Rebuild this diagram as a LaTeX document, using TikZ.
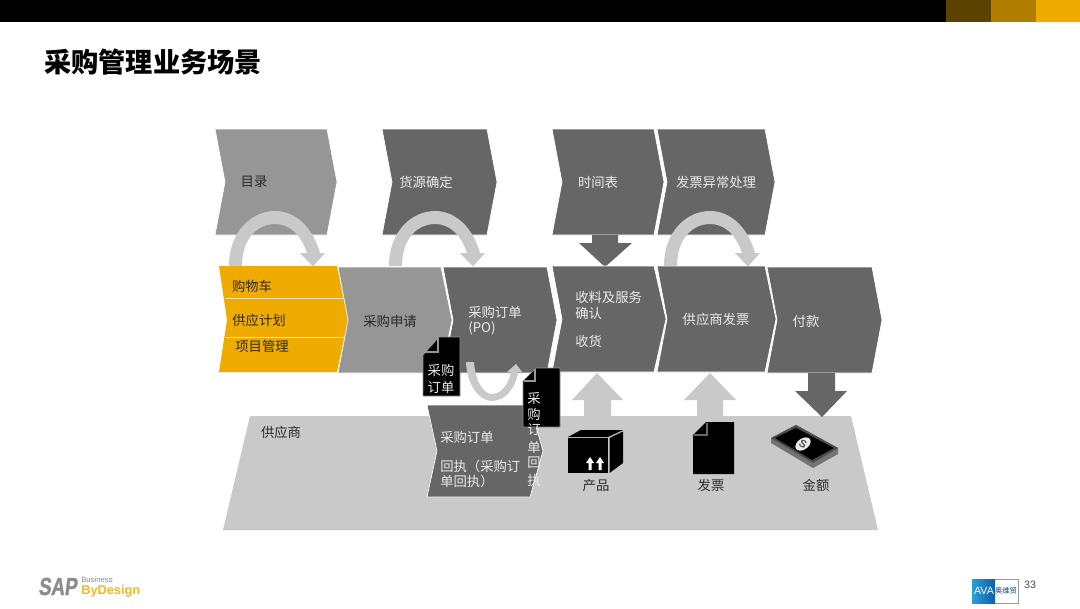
\documentclass[tikz,border=0pt]{standalone}
\usepackage{fontspec}
\setmainfont{Noto Sans CJK SC}
\newfontfamily\latinsans{Liberation Sans}
\newfontfamily\sapfont{Liberation Sans}[UprightFont=* Bold,FakeBold=1.2,FakeSlant=0.12,FakeStretch=0.76]
\definecolor{darkg}{HTML}{666666}
\definecolor{midg}{HTML}{969696}
\definecolor{lightg}{HTML}{C9C9C9}
\definecolor{sapgold}{HTML}{F0AB00}
\definecolor{goldmid}{HTML}{B07D00}
\definecolor{golddark}{HTML}{5C4200}
\definecolor{textg}{HTML}{2A2A2A}
\definecolor{avaL}{HTML}{2A9FD6}
\definecolor{avaR}{HTML}{0F5FA8}
\tikzset{
  lbl/.style={font=\fontsize{10}{12}\selectfont,text=textg,inner sep=0pt,align=left},
  lblw/.style={lbl,text=white!92!black},
  rowedge/.style={draw=white,line width=0.5pt},
  bandfill/.style={fill=lightg},
}
% name, xleft, xright, xtip, ytop, ybottom, ymid, xnotch, colour
\newcommand{\chev}[9]{\path[fill=#9,rowedge] (#2,#5) -- (#3,#5) -- (#4,#7) -- (#3,#6) -- (#2,#6) -- (#8,#7) -- cycle;
  \coordinate (#1) at (#8,#7);}
% curved arrow: x offset
\newcommand{\overarc}[1]{\begin{scope}[shift={(#1,0)}]
  \fill[bandfill] (229,266) .. controls (229,231) and (252,211) .. (275,211)
     .. controls (296,211) and (313,228) .. (320,253) -- (325,253) -- (313,266.5) -- (300,253) -- (307,253)
     .. controls (301,235) and (290,224) .. (275,224)
     .. controls (258,224) and (242,238) .. (242,266) -- cycle;
  \end{scope}}
\begin{document}
\begin{tikzpicture}[x=0.75pt,y=-0.75pt]
\useasboundingbox (0,0) rectangle (1080,608);
\fill[white] (0,0) rectangle (1080,608);
% header bar
\fill[black] (0,0) rectangle (946,22);
\fill[golddark] (946,0) rectangle (991,22);
\fill[goldmid] (991,0) rectangle (1036,22);
\fill[sapgold] (1036,0) rectangle (1080,22);
\node[anchor=west,inner sep=0pt,font=\fontsize{20.4}{24}\selectfont\bfseries] (title) at (44,62) {采购管理业务场景};
% supplier band
\fill[lightg] (250,416) -- (851,416) -- (878,530) -- (223,530) -- cycle;
% top chevrons
\chev{c1}{215}{327}{337}{129}{235}{182}{225}{midg}
\chev{c2}{382}{487}{497}{129}{235}{182}{392}{darkg}
\chev{c3}{552}{654}{664}{129}{235}{182}{562}{darkg}
\chev{c4}{657}{765}{775}{129}{235}{182}{667}{darkg}
% down arrow from schedule
\fill[darkg] (592,235) -- (618,235) -- (618,243) -- (632,243) -- (605,267) -- (579,243) -- (592,243) -- cycle;
% process row
\path[fill=sapgold] (219,266) -- (337,266) -- (348,320) -- (337,372) -- (219,372) -- (227,320) -- cycle;
\draw[white!70!sapgold,line width=0.4pt] (225,298) -- (343,298) (226,337) -- (345,337);
\chev{r2}{338}{441}{452}{267}{373}{320}{348}{midg}
\chev{r3}{443}{547}{557}{267}{373}{320}{453}{darkg}
\chev{r4}{552}{654}{666}{266}{372}{319}{562}{darkg}
\chev{r5}{657}{765}{776}{266}{372}{319}{667}{darkg}
\chev{r6}{767}{872}{882}{267}{373}{320}{777}{darkg}
% curved arrows
\overarc{0}
\overarc{160}
\overarc{435}
% order confirmation chevron
\chev{c5}{427}{530}{543}{405}{497}{451}{437}{darkg}
% U arrow
\fill[bandfill] (466,362) .. controls (467,385) and (479,401) .. (492,401)
   .. controls (505,401) and (516,388) .. (518,372) -- (522,372) -- (516,364) -- (507,372) -- (511,372)
   .. controls (509,384) and (501,394) .. (492,394)
   .. controls (483,394) and (475,380) .. (474,362) -- cycle;
% up and down block arrows
\fill[lightg] (597,373) -- (623,400) -- (611,400) -- (611,417) -- (584,417) -- (584,400) -- (572,400) -- cycle;
\fill[lightg] (710,373) -- (736,400) -- (723,400) -- (723,417) -- (697,417) -- (697,400) -- (684,400) -- cycle;
\fill[darkg] (808,373) -- (835,373) -- (835,391) -- (847,391) -- (822,417) -- (795,391) -- (808,391) -- cycle;
% document 1
\fill[black] (423,355) -- (439,337) -- (460,337) -- (460,396) -- (423,396) -- cycle;
\draw[midg,line width=0.5pt] (423,355) -- (439,337) -- (460,337) -- (460,396) -- (423,396) -- cycle;
\draw[midg,line width=0.8pt] (438,338) -- (438,352) -- (424,352);
% document 2
\fill[black] (523,381) -- (536,368) -- (560,368) -- (560,427) -- (523,427) -- cycle;
\draw[midg,line width=0.5pt] (523,381) -- (536,368) -- (560,368) -- (560,427) -- (523,427) -- cycle;
\draw[midg,line width=0.8pt] (535,369) -- (535,381) -- (524,381);
% invoice icon
\fill[black] (693,435) -- (706,422) -- (734,422) -- (734,474) -- (693,474) -- cycle;
\draw[darkg,line width=0.8pt] (707,423) -- (707,435) -- (694,435);
% box icon
\fill[black] (568,437) -- (581,430) -- (623,430) -- (608,437) -- cycle;
\fill[black] (568,438) rectangle (608,473);
\fill[black] (609.5,438) -- (623,431.5) -- (623,463) -- (609.5,473) -- cycle;
\foreach \ax in {590,600}{
  \fill[white] (\ax-1.5,470) -- (\ax+1.5,470) -- (\ax+1.5,463) -- (\ax+4,463) -- (\ax,457) -- (\ax-4,463) -- (\ax-1.5,463) -- cycle;
}
% money icon
\fill[black!55] (771,438) -- (771,443) -- (813,468) -- (838,454) -- (838,448) -- (796,425) -- cycle;
\fill[black!70] (771,438) -- (796,425) -- (838,448) -- (813,463) -- cycle;
\fill[black] (775,438) -- (796,428) -- (834,448) -- (812,460) -- cycle;
\fill[white!92!black,rotate around={35:(803,444)}] (803,444) ellipse (8.5 and 5.5);
\node[inner sep=0pt,rotate=-30,font=\fontsize{8}{8}\selectfont\latinsans\bfseries,text=black!70] (dollar) at (803,444) {S};
% labels
\node[lbl] (t1) at (254,182) {目录};
\node[lblw] (t2) at (426,182) {货源确定};
\node[lblw] (t3) at (598,182) {时间表};
\node[lblw] (t4) at (716,182) {发票异常处理};
\node[lbl] (y1) at (252,286) {购物车};
\node[lbl] (y2) at (259,320) {供应计划};
\node[lbl] (y3) at (262,346) {项目管理};
\node[lbl] (p1) at (390,321) {采购申请};
\node[lblw,anchor=west] (p2) at (468,312) {采购订单};
\node[lblw,anchor=west] (p2b) at (468,328) {(PO)};
\node[lblw,anchor=west] (p3) at (575,297) {收料及服务};
\node[lblw,anchor=west] (p3b) at (575,313) {确认};
\node[lblw,anchor=west] (p3c) at (575,341) {收货};
\node[lblw] (p4) at (716,319) {供应商发票};
\node[lblw] (p5) at (806,321) {付款};
\node[lbl] (s0) at (281,432) {供应商};
\node[lblw,anchor=west] (o1) at (440,437) {采购订单};
\node[lblw,anchor=west] (o2) at (440,466) {回执（采购订};
\node[lblw,anchor=west] (o3) at (440,481) {单回执）};
\node[lblw] (d1a) at (441,370) {采购};
\node[lblw] (d1b) at (441,387) {订单};
\node[lblw] (d2a) at (534,398) {采};
\node[lblw] (d2b) at (534,414) {购};
\node[lblw] (d2c) at (534,430) {订};
\node[lblw] (d2d) at (534,447) {单};
\node[lblw] (d2e) at (534,463) {回};
\node[lblw] (d2f) at (534,480) {执};
\node[lbl] (i1) at (596,485) {产品};
\node[lbl] (i2) at (711,485) {发票};
\node[lbl] (i3) at (816,485) {金额};
% footer
\node[anchor=west,inner sep=0pt,font=\fontsize{18.5}{19}\selectfont\sapfont,text=black!45] (sap) at (38,586.5) {SAP};
\node[anchor=west,inner sep=0pt,font=\fontsize{5.8}{6}\selectfont\latinsans,text=black!45] (biz) at (81,579.5) {Business};
\node[anchor=west,inner sep=0pt,font=\fontsize{9.6}{10}\selectfont\latinsans\bfseries,text=sapgold!85!white] (byd) at (81,591.5) {ByDesign};
\draw[black!40,line width=0.5pt,fill=white] (972,579) rectangle (1018,603);
\fill[left color=avaL,right color=avaR] (972,579) rectangle (995,603);
\node[inner sep=0pt,font=\fontsize{8}{8}\selectfont\latinsans,text=white] (ava) at (984,591) {AVA};
\node[inner sep=0pt,font=\fontsize{5.5}{6}\selectfont,text=avaR!70!black] (avacn) at (1006,591) {奥维贸};
\node[inner sep=0pt,font=\fontsize{8}{9}\selectfont\latinsans,text=black!70] (pg) at (1030,585) {33};
\end{tikzpicture}
\end{document}
